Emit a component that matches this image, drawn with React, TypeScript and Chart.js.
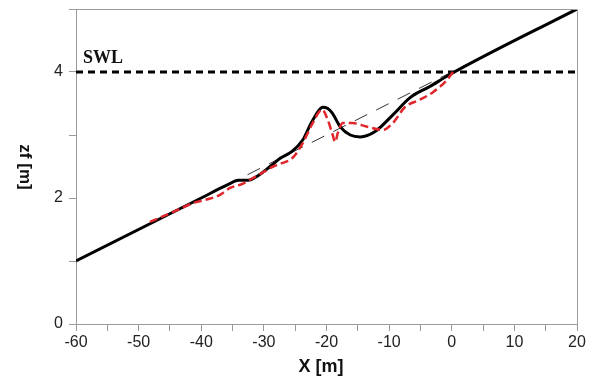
import React, { useEffect, useRef } from "react";
import { Chart, registerables } from "chart.js";

Chart.register(...registerables);

// Measured bed profile (black solid)
const measuredX = [-60, -40, -36, -34, -32.5, -31, -29, -27.4, -25.5, -23.8, -22.5, -21.3, -20.6, -19.8, -19.1, -17.8, -16.2, -14.6, -12.3, -9.4, -6.7, -3.5, -0.3, 20];
const measuredZ = [1.0, 2.0, 2.2, 2.28, 2.28, 2.35, 2.5, 2.63, 2.74, 2.92, 3.18, 3.38, 3.44, 3.42, 3.35, 3.13, 3.0, 2.97, 3.05, 3.32, 3.59, 3.77, 3.96, 5.0];

// Modelled bed profile (red dashed)
const modelX = [-48.2, -44, -41, -39, -37, -35.4, -33.5, -32.2, -30.6, -28.5, -27.4, -25.3, -23.8, -22.2, -20.7, -19.8, -19.1, -18.6, -18.2, -17.4, -15.9, -13.5, -11, -9.4, -7.5, -5.1, -3, -0.8, 0.2];
const modelZ = [1.62, 1.8, 1.93, 1.98, 2.05, 2.16, 2.22, 2.29, 2.38, 2.5, 2.54, 2.65, 2.87, 3.19, 3.4, 3.24, 3.03, 2.89, 3.03, 3.19, 3.19, 3.13, 3.08, 3.19, 3.44, 3.56, 3.68, 3.87, 4.0];

// Initial profile (thin dashed)
const initialX = [-60, 20];
const initialZ = [1.0, 5.0];

// Still water level
const swlX = [-60, 20];
const swlZ = [4, 4];

const xTitle = "X [m]";
const yTitle = "zf [m]";
const swlLabel = "SWL";

const toPts = (xs: number[], ys: number[]) => xs.map((x, i) => ({ x, y: ys[i] }));

const decorPlugin = {
  id: "decor",
  afterDraw(chart: any) {
    const { ctx, chartArea } = chart;
    ctx.save();
    ctx.strokeStyle = "#9a9a9a";
    ctx.lineWidth = 1;
    ctx.beginPath();
    ctx.moveTo(chartArea.left, chartArea.top + 0.5);
    ctx.lineTo(chartArea.right + 0.5, chartArea.top + 0.5);
    ctx.lineTo(chartArea.right + 0.5, chartArea.bottom);
    ctx.stroke();

    // SWL label
    ctx.fillStyle = "#111";
    ctx.font = "bold 18px 'Liberation Serif', 'Times New Roman', serif";
    ctx.textAlign = "left";
    ctx.textBaseline = "alphabetic";
    ctx.fillText(swlLabel, 83, 63);

    // X title
    ctx.font = "bold 18px Arial, 'Liberation Sans', sans-serif";
    ctx.textAlign = "center";
    ctx.textBaseline = "middle";
    ctx.fillText(xTitle, 321, 367);

    // Y title rotated +90 (reads top to bottom)
    ctx.translate(25, 167);
    ctx.rotate(Math.PI / 2);
    ctx.font = "bold 17px Arial, 'Liberation Sans', sans-serif";
    ctx.fillText(yTitle, 0, 0);
    ctx.restore();
  },
};

export default function App() {
  const ref = useRef<HTMLCanvasElement | null>(null);

  useEffect(() => {
    if (!ref.current) return;
    const tickFont = { family: "Arial, 'Liberation Sans', sans-serif", size: 16 };
    const chart = new Chart(ref.current, {
      type: "line",
      data: {
        datasets: [
          {
            data: toPts(modelX, modelZ),
            borderColor: "#e0262b",
            borderWidth: 2.5,
            borderDash: [8, 4],
            pointRadius: 0,
            cubicInterpolationMode: "monotone",
          },
          {
            data: toPts(measuredX, measuredZ),
            borderColor: "#000",
            borderWidth: 3,
            pointRadius: 0,
            cubicInterpolationMode: "monotone",
          },
          {
            data: toPts(initialX, initialZ),
            borderColor: "#333",
            borderWidth: 1,
            borderDash: [14, 10],
            pointRadius: 0,
          },
          {
            data: toPts(swlX, swlZ),
            borderColor: "#000",
            borderWidth: 3,
            borderDash: [7, 5],
            pointRadius: 0,
          },
        ],
      } as any,
      options: {
        animation: false,
        responsive: false,
        maintainAspectRatio: false,
        layout: { padding: { top: 9, right: 20, left: 0, bottom: 0 } },
        plugins: { legend: { display: false }, tooltip: { enabled: false } },
        scales: {
          x: {
            type: "linear",
            min: -60,
            max: 20,
            afterFit: (s: any) => {
              s.height = 58;
            },
            border: { display: true, color: "#9a9a9a", width: 1 },
            grid: { display: true, drawOnChartArea: false, drawTicks: true, tickLength: 7, color: "#9a9a9a" },
            ticks: {
              stepSize: 5,
              autoSkip: false,
              maxRotation: 0,
              padding: 2,
              color: "#222",
              font: tickFont,
              callback: (v: any) => (Number(v) % 10 === 0 ? String(v) : ""),
            },
          },
          y: {
            type: "linear",
            min: 0,
            max: 5,
            afterFit: (s: any) => {
              s.width = 76;
              s.paddingTop = 0;
              s.paddingBottom = 0;
            },
            border: { display: true, color: "#9a9a9a", width: 1 },
            grid: { display: true, drawOnChartArea: false, drawTicks: true, tickLength: 7, color: "#9a9a9a" },
            ticks: {
              stepSize: 1,
              autoSkip: false,
              padding: 6,
              color: "#222",
              font: tickFont,
              callback: (v: any) => (Number(v) % 2 === 0 && Number(v) < 5 ? String(v) : ""),
            },
          },
        },
      } as any,
      plugins: [decorPlugin],
    });
    return () => chart.destroy();
  }, []);

  return (
    <div style={{ position: "absolute", left: 0, top: 0, width: 597, height: 382, background: "#fff" }}>
      <canvas ref={ref} width={597} height={382} style={{ display: "block" }} />
    </div>
  );
}
